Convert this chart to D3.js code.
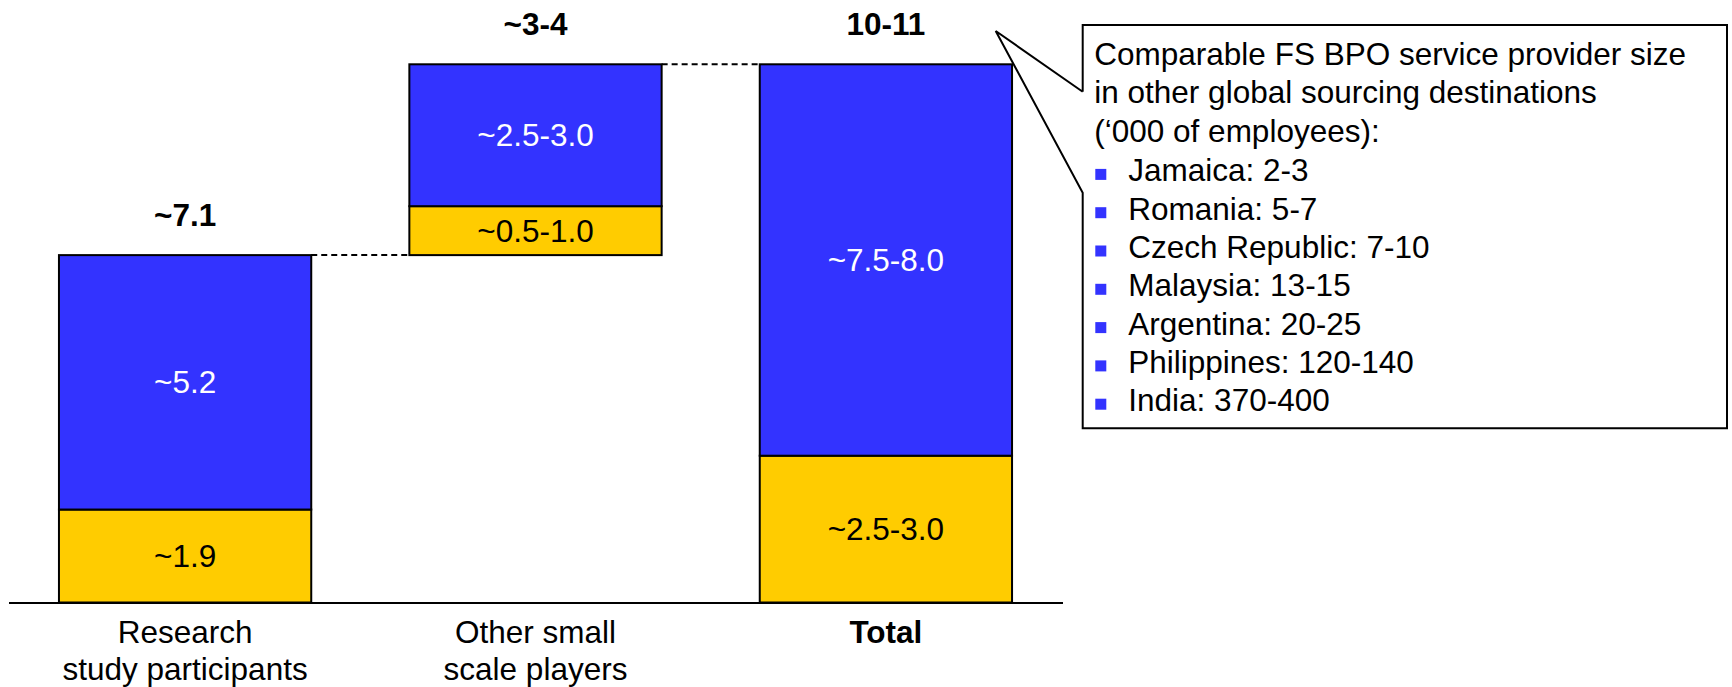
<!DOCTYPE html>
<html>
<head>
<meta charset="utf-8">
<script src="https://cdn.jsdelivr.net/npm/d3@7"></script>
<style>
  html, body { margin: 0; padding: 0; background: #ffffff; }
  svg { display: block; }
  text { font-family: "Liberation Sans", Arial, Helvetica, sans-serif; }
</style>
</head>
<body>
<svg id="chart" width="1732" height="687"></svg>
<script>
// Categories and stacked segments (thousands of employees)
const categories = ["Research study participants", "Other small scale players", "Total"];
const categoryLines = [["Research", "study participants"], ["Other small", "scale players"], ["Total"]];
const categoryBold = [false, false, true];
const baseValues = [0, 7.1, 0];          // floating start of each column
const yellowValues = [1.9, 1.0, 3.0];
const blueValues = [5.2, 2.9, 8.0];
const yellowLabels = ["~1.9", "~0.5-1.0", "~2.5-3.0"];
const blueLabels = ["~5.2", "~2.5-3.0", "~7.5-8.0"];
const totalLabels = ["~7.1", "~3-4", "10-11"];

// Callout contents
const calloutHeader = [
  "Comparable FS BPO service provider size",
  "in other global sourcing destinations",
  "(\u2018000 of employees):"
];
const calloutItems = [
  "Jamaica: 2-3",
  "Romania: 5-7",
  "Czech Republic: 7-10",
  "Malaysia: 13-15",
  "Argentina: 20-25",
  "Philippines: 120-140",
  "India: 370-400"
];

const BLUE = "#3333ff";
const YELLOW = "#ffcc00";
const FONT = 31.5;

const svg = d3.select("#chart");

const x = d3.scaleBand()
  .domain(categories)
  .range([8.5, 1062.5])
  .paddingInner(0.28)
  .paddingOuter(0.144);

const y = d3.scaleLinear()
  .domain([0, 11])
  .range([602.5, 64.3]);

const rows = categories.map((c, i) => ({
  cat: c,
  base: baseValues[i],
  yellow: yellowValues[i],
  blue: blueValues[i],
  yLab: yellowLabels[i],
  bLab: blueLabels[i],
  tLab: totalLabels[i]
}));

// Dashed connectors between consecutive column tops
const connectors = svg.append("g");
for (let i = 0; i < rows.length - 1; i++) {
  const top = rows[i].base + rows[i].yellow + rows[i].blue;
  connectors.append("line")
    .attr("x1", x(rows[i].cat) + x.bandwidth())
    .attr("x2", x(rows[i + 1].cat))
    .attr("y1", y(top))
    .attr("y2", y(top))
    .attr("stroke", "#000")
    .attr("stroke-width", 2)
    .attr("stroke-dasharray", "6,4");
}

// Stacked segments
const bars = svg.append("g");
rows.forEach(d => {
  const x0 = x(d.cat);
  const segs = [
    { from: d.base, to: d.base + d.yellow, fill: YELLOW, label: d.yLab, color: "#000" },
    { from: d.base + d.yellow, to: d.base + d.yellow + d.blue, fill: BLUE, label: d.bLab, color: "#fff" }
  ];
  segs.forEach(s => {
    bars.append("rect")
      .attr("x", x0)
      .attr("y", y(s.to))
      .attr("width", x.bandwidth())
      .attr("height", y(s.from) - y(s.to))
      .attr("fill", s.fill)
      .attr("stroke", "#000")
      .attr("stroke-width", 2);
    bars.append("text")
      .attr("x", x0 + x.bandwidth() / 2)
      .attr("y", (y(s.from) + y(s.to)) / 2)
      .attr("dy", "0.35em")
      .attr("text-anchor", "middle")
      .attr("font-size", FONT)
      .attr("fill", s.color)
      .text(s.label);
  });
  // Column total above the bar
  bars.append("text")
    .attr("x", x0 + x.bandwidth() / 2)
    .attr("y", y(d.base + d.yellow + d.blue) - 29)
    .attr("text-anchor", "middle")
    .attr("font-size", FONT)
    .attr("font-weight", "bold")
    .attr("fill", "#000")
    .text(d.tLab);
});

// Baseline axis
const axis = svg.append("g")
  .attr("transform", `translate(0,${y(0)})`)
  .call(d3.axisBottom(x).tickSize(0).tickSizeOuter(0).tickFormat(""));
axis.select(".domain").attr("stroke", "#000").attr("stroke-width", 2);
axis.selectAll(".tick").remove();

// Category labels (multi-line)
const catG = svg.append("g");
categories.forEach((c, i) => {
  const t = catG.append("text")
    .attr("x", x(c) + x.bandwidth() / 2)
    .attr("y", y(0) + 40)
    .attr("text-anchor", "middle")
    .attr("font-size", FONT)
    .attr("font-weight", categoryBold[i] ? "bold" : "normal")
    .attr("fill", "#000");
  categoryLines[i].forEach((line, j) => {
    t.append("tspan")
      .attr("x", x(c) + x.bandwidth() / 2)
      .attr("dy", j === 0 ? 0 : 37.3)
      .text(line);
  });
});

// Callout box with pointer toward the Total column
const box = { left: 1082.7, top: 25, right: 1727, bottom: 428.3 };
const tip = [995.7, 31];
const notchTop = 91.7, notchBottom = 192.7;
const callout = svg.append("g");
callout.append("path")
  .attr("d", `M${box.left},${notchTop} L${tip[0]},${tip[1]} L${box.left},${notchBottom}
              L${box.left},${box.bottom} L${box.right},${box.bottom} L${box.right},${box.top}
              L${box.left},${box.top} Z`)
  .attr("fill", "#fff")
  .attr("stroke", "none");
callout.append("path")
  .attr("d", `M${box.left},${notchTop} L${tip[0]},${tip[1]} L${box.left},${notchBottom}
              L${box.left},${box.bottom} L${box.right},${box.bottom} L${box.right},${box.top}
              L${box.left},${box.top} L${box.left},${notchTop}`)
  .attr("fill", "none")
  .attr("stroke", "#000")
  .attr("stroke-width", 2)
  .attr("stroke-linejoin", "miter");

const lineH = 38.3;
const textLeft = 1094.3;
const firstBase = 65;
calloutHeader.forEach((line, i) => {
  callout.append("text")
    .attr("x", textLeft)
    .attr("y", firstBase + i * lineH)
    .attr("font-size", FONT)
    .attr("fill", "#000")
    .text(line);
});
calloutItems.forEach((item, i) => {
  const base = firstBase + (calloutHeader.length + i) * lineH + 1.5;
  callout.append("rect")
    .attr("x", textLeft + 1)
    .attr("y", base - 12.5)
    .attr("width", 11)
    .attr("height", 11)
    .attr("fill", BLUE);
  callout.append("text")
    .attr("x", 1128.3)
    .attr("y", base)
    .attr("font-size", FONT)
    .attr("fill", "#000")
    .text(item);
});
</script>
</body>
</html>
